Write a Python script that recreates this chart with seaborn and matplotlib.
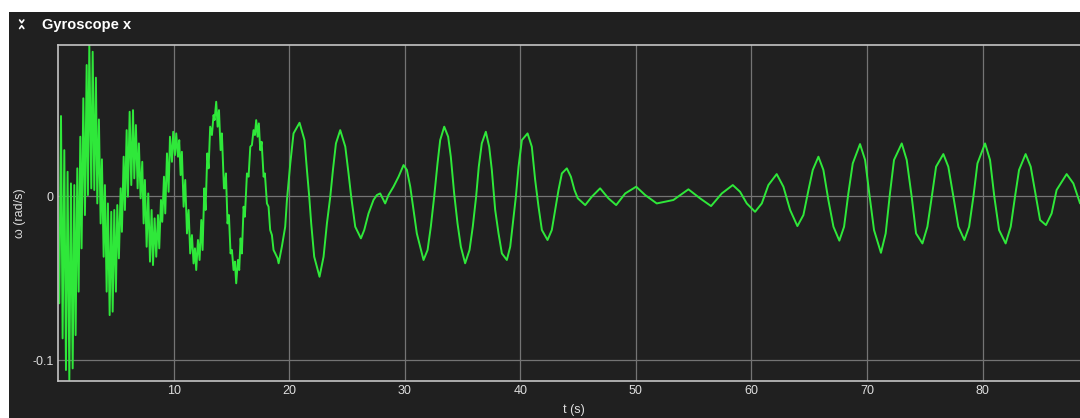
import matplotlib

matplotlib.use("Agg")
import matplotlib.pyplot as plt
import pandas as pd
import seaborn as sns
from matplotlib.lines import Line2D
from matplotlib.patches import Rectangle

# gyroscope x trace (t in s, omega in rad/s)
t_s = [
    0.11, 0.26, 0.40, 0.545, 0.69, 0.83, 0.98, 1.12, 1.27, 1.41,
    1.525, 1.67, 1.785, 1.93, 2.04, 2.19, 2.33, 2.48, 2.59, 2.71,
    2.88, 3.00, 3.14, 3.28, 3.40, 3.54, 3.69, 3.80, 3.95, 4.06,
    4.21, 4.32, 4.47, 4.61, 4.73, 4.87, 5.01, 5.13, 5.27, 5.42,
    5.53, 5.68, 5.79, 5.94, 6.05, 6.20, 6.34, 6.49, 6.60, 6.74,
    6.89, 7.00, 7.15, 7.29, 7.41, 7.52, 7.67, 7.81, 7.96, 8.10,
    8.22, 8.36, 8.50, 8.65, 8.76, 8.91, 9.02, 9.17, 9.28, 9.43,
    9.57, 9.69,
    9.86, 9.97, 10.12, 10.23, 10.38, 10.49, 10.61, 10.72, 10.87, 11.01,
    11.16, 11.30, 11.44, 11.59, 11.73, 11.85, 11.96, 12.11, 12.25, 12.40,
    12.51, 12.66, 12.77, 12.92, 13.03, 13.17, 13.32, 13.46, 13.55, 13.69,
    13.81, 13.93, 14.07, 14.18, 14.36,
    14.41, 14.53, 14.67, 14.79, 14.93, 15.05, 15.19, 15.31, 15.42, 15.57,
    15.68, 15.80, 15.91, 16.06, 16.17, 16.35, 16.49, 16.64, 16.78, 16.92,
    17.04, 17.15, 17.27, 17.38, 17.50, 17.62, 17.79, 17.90, 18.08, 18.22,
    18.36, 18.51, 18.65, 18.80, 19.00,
    19.09, 19.37, 19.66, 19.81, 20.10, 20.38, 20.90, 21.33, 21.54, 21.74,
    21.91, 22.17, 22.63, 22.98, 23.27, 23.56, 23.79, 24.05, 24.42, 24.86,
    25.14, 25.37, 25.72, 26.21, 26.50, 26.87, 27.30, 27.59, 27.88, 28.31,
    28.60, 29.03, 29.47, 29.90, 30.19, 30.48, 30.76, 31.05, 31.63, 31.98,
    32.26, 32.55, 32.84, 33.07, 33.42, 33.76, 33.99, 34.28, 34.57, 34.86,
    35.23, 35.61, 35.89, 36.18, 36.41, 36.67, 37.02,
    37.31, 37.54, 37.83, 38.12, 38.41, 38.84, 39.13, 39.36, 39.62, 39.85,
    40.14, 40.63, 41.00, 41.29, 41.58, 41.87, 42.36, 42.73, 43.02, 43.31,
    43.60, 44.03, 44.38, 44.69, 44.98, 45.62, 46.19, 46.91, 47.63, 48.30,
    49.08, 50.03, 50.81, 51.81, 53.25, 54.55, 55.56, 56.51, 57.44, 58.39,
    59.02, 59.60, 60.32, 60.90, 61.47, 62.19, 62.77, 63.35, 63.98, 64.50,
    64.94, 65.31, 65.80, 66.23, 66.66, 67.10, 67.61, 68.02, 68.39, 68.77,
    69.40, 69.84, 70.20, 70.61, 71.21, 71.62, 71.99, 72.34, 73.01, 73.44,
    73.87, 74.25,
    74.80, 75.23, 75.61, 75.98, 76.61, 77.04, 77.48, 77.91, 78.43, 78.84,
    79.21, 79.56, 80.22, 80.65, 81.02, 81.43, 82.00, 82.44, 82.81, 83.16,
    83.73, 84.17, 84.63, 84.98, 85.49, 85.98, 86.41, 87.28, 87.86, 88.44,
]
omega = [
    -0.0654, 0.0488, -0.0868, 0.0280, -0.1061, 0.0148, -0.1122, 0.0077, -0.1051, 0.0067,
    -0.0848, 0.0169, -0.0583, 0.0362, -0.0319, 0.0596, -0.0116, 0.0799, 0.0006, 0.0921,
    0.0047, 0.0880, 0.0037, 0.0722, -0.0045, 0.0467, -0.0167, 0.0224, -0.0370, 0.0067,
    -0.0583, -0.0045, -0.0726, -0.0096, -0.0705, -0.0085, -0.0583, -0.0055, -0.0380, 0.0047,
    -0.0218, 0.0240, -0.0085, 0.0402, -0.0004, 0.0514, 0.0067, 0.0524, 0.0108, 0.0433,
    0.0047, 0.0321, -0.0014, 0.0209, -0.0167, 0.0098, -0.0309, 0.0016, -0.0400, -0.0085,
    -0.0421, -0.0136, -0.0370, -0.0116, -0.0319, -0.0024, -0.0157, 0.0118, -0.0106, 0.0260,
    0.0026, 0.0362,
    0.0209, 0.0392, 0.0250, 0.0382, 0.0240, 0.0341, 0.0128, 0.0270, -0.0065, 0.0098,
    -0.0228, -0.0085, -0.0350, -0.0238, -0.0411, -0.0319, -0.0451, -0.0268, -0.0390, -0.0146,
    -0.0329, 0.0047, -0.0085, 0.0260, 0.0169, 0.0423, 0.0372, 0.0494, 0.0463, 0.0575,
    0.0423, 0.0524, 0.0280, 0.0382, 0.0047,
    0.0047, 0.0138, -0.0167, -0.0116, -0.0350, -0.0329, -0.0451, -0.0400, -0.0532, -0.0390,
    -0.0451, -0.0258, -0.0350, -0.0065, -0.0126, 0.0138, 0.0118, 0.0301, 0.0311, 0.0402,
    0.0372, 0.0463, 0.0362, 0.0443, 0.0280, 0.0331, 0.0118, 0.0138, -0.0045, -0.0065,
    -0.0207, -0.0238, -0.0329, -0.0350, -0.0380,
    -0.0410, -0.0309, -0.0187, -0.0024, 0.0199, 0.0382, 0.0447, 0.0341, 0.0159, -0.0004,
    -0.0167, -0.0370, -0.0492, -0.0370, -0.0167, -0.0004, 0.0159, 0.0321, 0.0402, 0.0301,
    0.0138, -0.0004, -0.0187, -0.0258, -0.0207, -0.0106, -0.0024, 0.0006, 0.0016, -0.0045,
    0.0006, 0.0057, 0.0118, 0.0189, 0.0159, 0.0057, -0.0085, -0.0228, -0.0390, -0.0329,
    -0.0187, -0.0004, 0.0199, 0.0341, 0.0423, 0.0362, 0.0240, 0.0016, -0.0167, -0.0309,
    -0.0410, -0.0329, -0.0187, -0.0004, 0.0179, 0.0321, 0.0392,
    0.0301, 0.0159, -0.0085, -0.0228, -0.0350, -0.0390, -0.0309, -0.0167, -0.0004, 0.0179,
    0.0341, 0.0382, 0.0301, 0.0098, -0.0065, -0.0207, -0.0268, -0.0207, -0.0085, 0.0037,
    0.0138, 0.0169, 0.0118, 0.0037, -0.0014, -0.0055, -0.0004, 0.0047, -0.0014, -0.0055,
    0.0016, 0.0057, 0.0006, -0.0045, -0.0024, 0.0041, -0.0014, -0.0061, 0.0016, 0.0067,
    0.0026, -0.0045, -0.0096, -0.0045, 0.0067, 0.0134, 0.0057, -0.0085, -0.0183, -0.0116,
    0.0037, 0.0159, 0.0240, 0.0159, -0.0024, -0.0187, -0.0272, -0.0187, 0.0016, 0.0199,
    0.0317, 0.0220, 0.0016, -0.0207, -0.0346, -0.0228, 0.0016, 0.0220, 0.0321, 0.0220,
    -0.0004, -0.0228,
    -0.0289, -0.0187, -0.0004, 0.0179, 0.0256, 0.0179, -0.0004, -0.0187, -0.0268, -0.0187,
    -0.0004, 0.0199, 0.0321, 0.0220, -0.0004, -0.0207, -0.0289, -0.0187, -0.0004, 0.0159,
    0.0256, 0.0179, -0.0004, -0.0146, -0.0177, -0.0106, 0.0037, 0.0134, 0.0077, -0.0045,
]
x_ticks = [10, 20, 30, 40, 50, 60, 70, 80]
y_ticks = [-0.1, 0]
y_tick_labels = ["-0.1", "0"]

BG = "#202020"
GREEN = "#2fe83a"
TEXT = "#dedede"
GRID = "#747474"
FRAME = "#c4c4c4"

sns.set_theme(style="dark")
plt.rcParams["font.family"] = ["Liberation Sans", "DejaVu Sans"]

W, H = 1080, 418
fig = plt.figure(figsize=(W / 100, H / 100), dpi=100, facecolor="white")
fig.patches.append(
    Rectangle((9 / W, 0), 1, 406 / H, transform=fig.transFigure,
              facecolor=BG, edgecolor="none", zorder=-10)
)

# collapse icon next to the panel title
for ys in [(20, 22.8, 20), (28.5, 25.7, 28.5)]:
    fig.add_artist(Line2D([19.6 / W, 21.7 / W, 23.8 / W],
                          [1 - ys[0] / H, 1 - ys[1] / H, 1 - ys[2] / H],
                          transform=fig.transFigure, color="white", lw=1.2))
fig.text(42 / W, 1 - 24.5 / H, "Gyroscope x", color="white", fontsize=10.5,
         fontweight="bold", va="center", ha="left")

ax = fig.add_axes([58 / W, 37.3 / H, 1032 / W, 336 / H])
ax.set_facecolor(BG)

df = pd.DataFrame({"t": t_s, "omega": omega})
sns.lineplot(data=df, x="t", y="omega", ax=ax, color=GREEN, linewidth=1.4,
             sort=False, estimator=None)

ax.set_xlim(0, 89.3)
ax.set_ylim(-0.1126, 0.0923)
ax.set_xticks(x_ticks)
ax.set_xticklabels([str(v) for v in x_ticks])
ax.set_yticks(y_ticks)
ax.set_yticklabels(y_tick_labels)
ax.grid(True, color=GRID, linewidth=0.9)
ax.tick_params(length=0, colors=TEXT, labelsize=9)
ax.tick_params(axis="x", pad=3)
ax.tick_params(axis="y", pad=3)
for side in ["left", "top", "bottom", "right"]:
    ax.spines[side].set_visible(True)
    ax.spines[side].set_color(FRAME)
    ax.spines[side].set_linewidth(1.2)
ax.set_xlabel("t (s)", color=TEXT, fontsize=9, labelpad=5)
ax.set_ylabel("ω (rad/s)", color=TEXT, fontsize=9)
ax.yaxis.set_label_coords(-0.031, 0.5)

fig.savefig("out.png", dpi=100, facecolor=fig.get_facecolor())
